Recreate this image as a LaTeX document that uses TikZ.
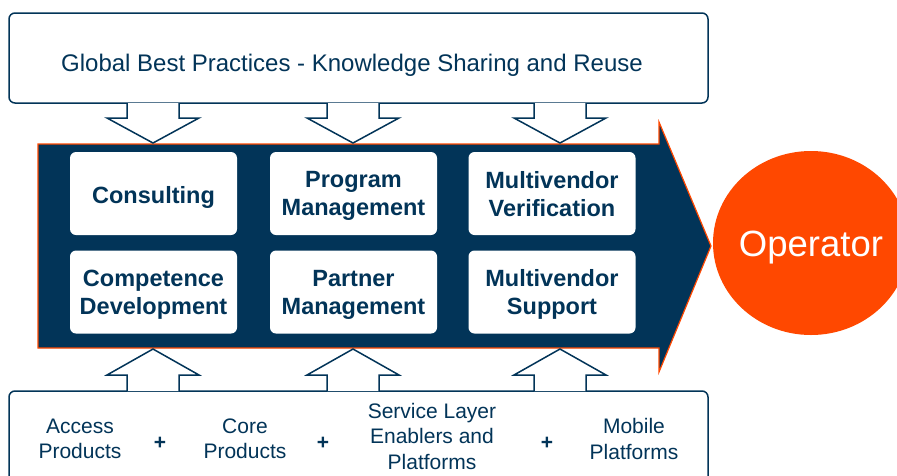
\documentclass[tikz,border=0pt]{standalone}
\usepackage{fontspec}
\setmainfont{Liberation Sans}
\usetikzlibrary{shapes.geometric}
\definecolor{navy}{HTML}{023458}
\definecolor{flame}{HTML}{FF4800}
\begin{document}
\begin{tikzpicture}[x=1pt,y=-1pt,
  framebox/.style={draw=navy,line width=1.5pt,rounded corners=6pt,fill=white},
  servicebox/.style={fill=white,rounded corners=6pt,minimum width=167pt,minimum height=83pt,inner sep=0pt},
  servicetext/.style={align=center,text=navy,font=\fontsize{23.5}{28}\selectfont\bfseries,inner sep=0pt,
    execute at begin node=\strut,execute at end node=\strut},
  itemtext/.style={text=navy,align=center,font=\fontsize{21}{25.5}\selectfont},
  plus/.style={text=navy,font=\fontsize{21}{25}\selectfont\bfseries},
  hollow/.style={draw=navy,line width=1.5pt,fill=white,line join=miter}]
\useasboundingbox (0,0) rectangle (897,475);
\begin{scope}
\clip (0,0) rectangle (897,475);

% top frame
\draw[framebox] (9,13) rectangle (708,103);
\node[text=navy,font=\fontsize{24}{29}\selectfont] (practices) at (352,65)
  {Global Best Practices - Knowledge Sharing and Reuse};

% large delivery arrow
\draw[fill=navy,draw=flame,line width=1.2pt,line join=miter]
  (38,144) -- (659,144) -- (659,122) -- (711,246) -- (659,372) -- (659,348) -- (38,348) -- cycle;

% service boxes
\node[servicebox] (consult) at (153.5,193.5) {};
\node[servicebox] (program) at (353.5,193.5) {};
\node[servicebox] (mvverif) at (552,193.5) {};
\node[servicebox] (compet)  at (153.5,292) {};
\node[servicebox] (partner) at (353.5,292) {};
\node[servicebox] (mvsupp)  at (552,292) {};
\node[servicetext] (consult-t) at ([yshift=-4.5pt]consult.center) {Consulting};
\node[servicetext] (program-t) at ([yshift=-4.5pt]program.center) {Program\\Management};
\node[servicetext] (mvverif-t) at ([yshift=-4.5pt]mvverif.center) {Multivendor\\Verification};
\node[servicetext] (compet-t)  at ([yshift=-4.5pt]compet.center) {Competence\\Development};
\node[servicetext] (partner-t) at ([yshift=-4.5pt]partner.center) {Partner\\Management};
\node[servicetext] (mvsupp-t)  at ([yshift=-4.5pt]mvsupp.center) {Multivendor\\Support};

% downward hollow arrows from the top frame
\foreach \cx in {153,353,560}{
  \draw[hollow] (\cx-26,103) -- (\cx-26,118) -- (\cx-46,118) -- (\cx,143)
    -- (\cx+46,118) -- (\cx+26,118) -- (\cx+26,103);
}

% bottom frame
\draw[framebox] (9,391) rectangle (708,500);

% upward hollow arrows into the delivery arrow
\foreach \cx in {153,353,560}{
  \draw[hollow] (\cx-26,391) -- (\cx-26,375) -- (\cx-46,375) -- (\cx,349)
    -- (\cx+46,375) -- (\cx+26,375) -- (\cx+26,391);
}

% product items
\node[itemtext] (access) at (80,439) {Access\\Products};
\node[plus] (p1) at (160,443) {+};
\node[itemtext] (core) at (245,439) {Core\\Products};
\node[plus] (p2) at (323,443) {+};
\node[itemtext] (service) at (432,436) {Service Layer\\Enablers and\\Platforms};
\node[plus] (p3) at (547,443) {+};
\node[itemtext] (mobile) at (634,439) {Mobile\\Platforms};

% operator
\node[ellipse,fill=flame,minimum width=196pt,minimum height=184pt,inner sep=0pt] (operator) at (811,243) {};
\node[text=white,font=\fontsize{36.5}{44}\selectfont] (operator-t) at ([yshift=-5pt]operator.center) {Operator};
\end{scope}
\end{tikzpicture}
\end{document}
